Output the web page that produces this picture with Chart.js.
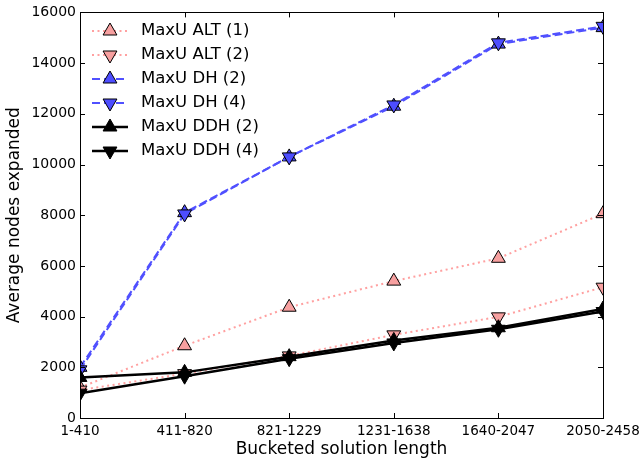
<!DOCTYPE html>
<html><head><meta charset="utf-8">
<script src="https://cdn.jsdelivr.net/npm/chart.js@4/dist/chart.umd.min.js"></script>
<style>html,body{margin:0;padding:0;background:#fff}#wrap{width:641px;height:460px}</style>
</head><body><div id="wrap"><canvas id="c" width="641" height="460"></canvas></div>
<script>
const categories = ["1-410","411-820","821-1229","1231-1638","1640-2047","2050-2458"];
const altOne  = [1200, 2850, 4370, 5400, 6300, 8060];
const altTwo  = [1100, 1750, 2450, 3280, 3990, 5160];
const dhTwo   = [2000, 8100, 10300, 12300, 14750, 15400];
const dhFour  = [1900, 8050, 10300, 12350, 14800, 15450];
const ddhTwo  = [1600, 1800, 2420, 3060, 3560, 4300];
const ddhFour = [980, 1650, 2340, 2960, 3500, 4200];
const seriesLabels = ["MaxU ALT (1)","MaxU ALT (2)","MaxU DH (2)","MaxU DH (4)","MaxU DDH (2)","MaxU DDH (4)"];
const yTicks = [0,2000,4000,6000,8000,10000,12000,14000,16000];

const PINK_LINE = "rgba(255,150,150,0.9)", PINK_FILL = "#f7a0a0";
const BLUE_LINE = "#5050ff", BLUE_FILL = "#4d4dff";
const styles = [
  {line: PINK_LINE, fill: PINK_FILL, dash: [2,3.5], rot: 0, w: 2},
  {line: PINK_LINE, fill: PINK_FILL, dash: [2,3.5], rot: 180, w: 2},
  {line: BLUE_LINE, fill: BLUE_FILL, dash: [8,4], rot: 0, w: 2},
  {line: BLUE_LINE, fill: BLUE_FILL, dash: [8,4], rot: 180, w: 2},
  {line: "#000", fill: "#000", dash: [], rot: 0, w: 2.5},
  {line: "#000", fill: "#000", dash: [], rot: 180, w: 2.5}
];
const seriesData = [altOne, altTwo, dhTwo, dhFour, ddhTwo, ddhFour];

const datasets = seriesData.map((d, i) => ({
  label: seriesLabels[i], data: d,
  borderColor: styles[i].line, borderWidth: styles[i].w, borderDash: styles[i].dash,
  backgroundColor: styles[i].fill, pointBackgroundColor: styles[i].fill,
  pointBorderColor: "#000", pointBorderWidth: 1,
  pointStyle: "triangle", pointRotation: styles[i].rot, pointRadius: 8, pointHoverRadius: 8,
  tension: 0, fill: false, clip: {left: 0, top: 0, right: 0, bottom: 0}, order: 6 - i
}));

const frame = {
  id: "frame",
  beforeDatasetsDraw(chart) {
    const a = chart.chartArea, ctx = chart.ctx;
    ctx.save(); ctx.beginPath(); ctx.rect(a.left, a.top, a.right - a.left, a.bottom - a.top); ctx.clip();
  },
  afterDatasetsDraw(chart) {
    const ctx = chart.ctx, a = chart.chartArea, xs = chart.scales.x, ys = chart.scales.y;
    ctx.restore();
    ctx.save();
    ctx.strokeStyle = "#000"; ctx.lineWidth = 1;
    ctx.beginPath();
    yTicks.forEach(v => { const y = Math.round(ys.getPixelForValue(v)) + 0.5;
      ctx.moveTo(a.left, y); ctx.lineTo(a.left + 5, y);
      ctx.moveTo(a.right, y); ctx.lineTo(a.right - 5, y); });
    categories.forEach((c, i) => { const x = Math.round(xs.getPixelForValue(i)) + 0.5;
      ctx.moveTo(x, a.bottom); ctx.lineTo(x, a.bottom - 5);
      ctx.moveTo(x, a.top); ctx.lineTo(x, a.top + 5); });
    ctx.stroke();
    ctx.strokeRect(Math.round(a.left) + 0.5, Math.round(a.top) + 0.5, Math.round(a.right - a.left), Math.round(a.bottom - a.top));
    // legend
    ctx.font = "16.5px 'DejaVu Sans'"; ctx.textBaseline = "middle"; ctx.fillStyle = "#000";
    chart.data.datasets.forEach((ds, i) => {
      const y = 31 + i * 24;
      ctx.save();
      ctx.strokeStyle = ds.borderColor; ctx.lineWidth = ds.borderWidth; ctx.setLineDash(ds.borderDash);
      ctx.beginPath(); ctx.moveTo(92, y); ctx.lineTo(128, y); ctx.stroke();
      ctx.restore();
      ctx.save(); ctx.fillStyle = ds.pointBackgroundColor; ctx.strokeStyle = "#000"; ctx.lineWidth = 1;
      Chart.helpers.drawPoint(ctx, {pointStyle: "triangle", rotation: ds.pointRotation, radius: 8, borderWidth: 1}, 110, y);
      ctx.restore();
      ctx.fillText(ds.label, 141, y);
    });
    ctx.restore();
  }
};

new Chart(document.getElementById("c"), {
  type: "line",
  data: { labels: categories, datasets },
  options: {
    responsive: false, animation: false, devicePixelRatio: 1,
    layout: { padding: { top: 9, right: 0, left: 0, bottom: 0 } },
    plugins: { legend: { display: false }, tooltip: { enabled: false } },
    scales: {
      x: {
        offset: false,
        grid: { display: false, drawTicks: false },
        border: { display: true, color: "#000", width: 1 },
        ticks: { color: "#000", padding: 5, maxRotation: 0, autoSkip: false, font: { family: "'DejaVu Sans'", size: 13.5 } },
        title: { display: true, text: "Bucketed solution length", color: "#000", font: { family: "'DejaVu Sans'", size: 17 }, padding: { top: 0, bottom: 0 } },
        afterFit(s) { s.height = 42; s.paddingRight = 38; }
      },
      y: {
        min: 0, max: 16000,
        afterBuildTicks(s) { s.ticks = yTicks.map(v => ({ value: v })); },
        grid: { display: false, drawTicks: false },
        border: { display: true, color: "#000", width: 1 },
        ticks: { color: "#000", padding: 4, font: { family: "'DejaVu Sans'", size: 14 }, callback: v => String(v) },
        title: { display: true, text: "Average nodes expanded", color: "#000", font: { family: "'DejaVu Sans'", size: 17 }, padding: { top: 4, bottom: 0 } },
        afterFit(s) { s.width = 80; }
      }
    }
  },
  plugins: [frame]
});
</script></body></html>
